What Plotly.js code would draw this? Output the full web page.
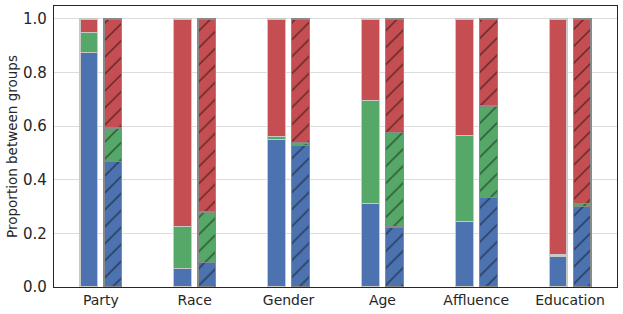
<!DOCTYPE html>
<html>
<head>
<meta charset="utf-8">
<script src="https://cdn.plot.ly/plotly-3.0.1.min.js"></script>
<style>
  html, body { margin: 0; padding: 0; background: #fff; }
  #chart { width: 623px; height: 314px; }
</style>
</head>
<body>
<div id="chart"></div>
<script>
// categories
let groups = ["Party", "Race", "Gender", "Age", "Affluence", "Education"];

// solid bars (first sample)
let blueA  = [0.874, 0.070, 0.549, 0.312, 0.245, 0.116];
let greenA = [0.074, 0.155, 0.012, 0.383, 0.321, 0.005];
let redA   = [0.052, 0.775, 0.439, 0.305, 0.434, 0.879];

// hatched bars (second sample)
let blueB  = [0.468, 0.091, 0.527, 0.224, 0.333, 0.300];
let greenB = [0.125, 0.189, 0.010, 0.353, 0.342, 0.011];
let redB   = [0.407, 0.720, 0.463, 0.423, 0.325, 0.689];

let colors = ["#4c72b0", "#55a868", "#c44e52"];

// positions des barres autour de chaque groupe
let xA = groups.map((g, i) => i - 0.128);
let xB = groups.map((g, i) => i + 0.128);

function barre(x, y, col, hatch) {
    let m = {
        color: col,
        line: {color: hatch ? "#8a8a8a" : "#c8c8c8", width: 1.3}
    };
    if (hatch) {
        m.pattern = {shape: "/", fgcolor: "#000", bgcolor: col, size: 12, solidity: 0.12, fillmode: "overlay"};
    }
    return {type: "bar", x: x, y: y, width: 0.19, marker: m, showlegend: false, hoverinfo: "skip"};
}

let data = [
    barre(xA, blueA, colors[0], false),
    barre(xA, greenA, colors[1], false),
    barre(xA, redA, colors[2], false),
    barre(xB, blueB, colors[0], true),
    barre(xB, greenB, colors[1], true),
    barre(xB, redB, colors[2], true)
];

let layout = {
    width: 623, height: 314,
    margin: {l: 54, r: 6, t: 6, b: 27},
    barmode: "stack",
    paper_bgcolor: "#fff",
    plot_bgcolor: "#fff",
    font: {family: "DejaVu Sans", size: 14, color: "#262626"},
    xaxis: {
        range: [-0.5, 5.5],
        tickvals: groups.map((g, i) => i),
        ticktext: groups,
        showgrid: false, zeroline: false,
        showline: true, mirror: true, linecolor: "#262626", linewidth: 1.25,
        ticks: "", tickfont: {size: 14}
    },
    yaxis: {
        range: [0, 1.048],
        tickvals: [0, 0.2, 0.4, 0.6, 0.8, 1.0],
        tickformat: ".1f",
        showgrid: true, gridcolor: "#dcdcdc", gridwidth: 1.2,
        zeroline: false,
        showline: true, mirror: true, linecolor: "#262626", linewidth: 1.25,
        ticks: "", tickfont: {size: 15}, ticklabelstandoff: 3,
        title: {text: "Proportion between groups", font: {size: 13.5}, standoff: 2}
    }
};

Plotly.newPlot("chart", data, layout, {displayModeBar: false, staticPlot: true});
</script>
</body>
</html>
